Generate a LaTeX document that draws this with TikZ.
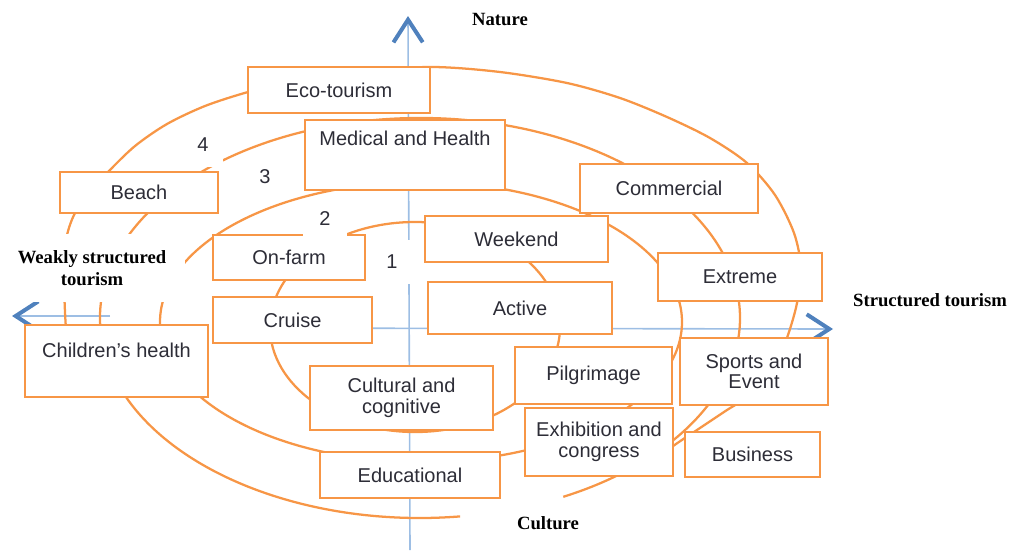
\documentclass[tikz,border=0pt]{standalone}
\usepackage{fontspec}
\setmainfont{Liberation Sans}
\newfontfamily\polefont{Liberation Serif}
\usetikzlibrary{arrows.meta, positioning}

\definecolor{ringorange}{RGB}{247,150,70}
\definecolor{axisblue}{RGB}{157,190,228}
\definecolor{tipblue}{RGB}{79,129,189}
\definecolor{boxtext}{RGB}{45,45,55}

\tikzset{
  kind/.style={draw=ringorange, line width=1.6pt, fill=white, text=boxtext,
    font=\fontsize{15}{15.5}\selectfont, align=center, inner sep=0pt},
  boxsize/.style 2 args={minimum width=#1*0.75pt, minimum height=#2*0.75pt},
  ring/.style={draw=ringorange, line width=1.7pt},
  turnlabel/.style={fill=white, text=boxtext, font=\fontsize{15}{16}\selectfont,
    inner sep=0pt},
  axisline/.style={draw=axisblue, line width=1.2pt},
  axis tip/.style={-{Straight Barb[length=17pt, width=22pt, line width=3pt, color=tipblue]}},
  pole/.style={font=\fontsize{14}{16}\selectfont\polefont\bfseries, text=black, align=center}
}

\begin{document}
\begin{tikzpicture}[x=0.75pt, y=-0.75pt]
  \useasboundingbox (0,0) rectangle (1009,550);

  \coordinate (north end)  at (408,16);
  \coordinate (south end)  at (410,550);
  \coordinate (west end)   at (12,316);
  \coordinate (west stop)  at (110,316);
  \coordinate (east start) at (213,328);
  \coordinate (east end)   at (833,329);
  \draw[axisline, axis tip] (south end) -- (north end);
  \draw[axisline, axis tip] (west stop) -- (west end);
  \draw[axisline, axis tip] (east start) -- (east end);

  % spiral, inner turn first
  \draw[ring] (415,327) ellipse [x radius=145, y radius=105];
  \draw[ring] (421,322) ellipse [x radius=261, y radius=140];
  \draw[ring] (460.1,516.4) arc [start angle=82.8, end angle=423.4,
    x radius=320, y radius=200];
  \draw[ring] plot[smooth] coordinates {(67,345) (65,312) (64,275) (66,240)
    (74,215) (89,193) (108,172) (135,146) (167,124) (205,106) (248,92)
    (300,79) (360,71) (433,67) (500,72) (567,83) (620,98) (667,117)
    (710,138) (747,163) (775,195) (794,233) (801,268) (797,303) (788,335)
    (775,368) (752,394) (727,410) (700,428) (676,444) (660,456)};

  \node[kind, boxsize={182}{46}] (eco tourism)     at (339,90)    {Eco-tourism};
  \node[kind, boxsize={200}{70}] (medical)         at (405,155)   {Medical and Health\\[9pt]\mbox{}};
  \node[kind, boxsize={158}{41}] (beach)           at (139,192.5) {Beach};
  \node[kind, boxsize={178}{49}] (commercial)      at (669,188.5) {Commercial};
  \node[kind, boxsize={183}{46}] (weekend)         at (516.5,239) {Weekend};
  \node[kind, boxsize={152}{45}] (on farm)         at (289,257.5) {On-farm};
  \node[kind, boxsize={164}{48}] (extreme)         at (740,277)   {Extreme};
  \node[kind, boxsize={184}{52}] (active)          at (520,308)   {Active};
  \node[kind, boxsize={159}{46}] (cruise)          at (292.5,320) {Cruise};
  \node[kind, boxsize={183}{72}] (children health) at (116.5,361) {Children's health\\\mbox{}};
  \node[kind, boxsize={183}{64}] (cultural)        at (401.5,398) {Cultural and\\cognitive};
  \node[kind, boxsize={157}{57}] (pilgrimage)      at (593.5,375.5) {Pilgrimage};
  \node[kind, boxsize={148}{67}] (sports)          at (754,371.5) {Sports and\\Event};
  \node[kind, boxsize={148}{68}] (exhibition)      at (599,442)   {Exhibition and\\congress};
  \node[kind, boxsize={135}{45}] (business)        at (752.5,454.5) {Business};
  \node[kind, boxsize={180}{46}] (educational)     at (410,475)   {Educational};

  \node[turnlabel, boxsize={40}{44}] (turn 4) at (203,145) {4};
  \node[turnlabel, boxsize={40}{44}] (turn 3) at (265,177) {3};
  \node[turnlabel, boxsize={44}{40}] (turn 2) at (325,219) {2};
  \node[turnlabel, boxsize={44}{44}] (turn 1) at (392,262) {1};

  \node[pole] (nature) at (500,20) {Nature};
  \node[pole, fill=white, boxsize={186}{68}] (weakly) at (92,268) {Weakly structured\\tourism};
  \node[pole] (structured) at (930,300) {Structured tourism};
  \node[pole] (culture) at (548,523) {Culture};
\end{tikzpicture}
\end{document}
